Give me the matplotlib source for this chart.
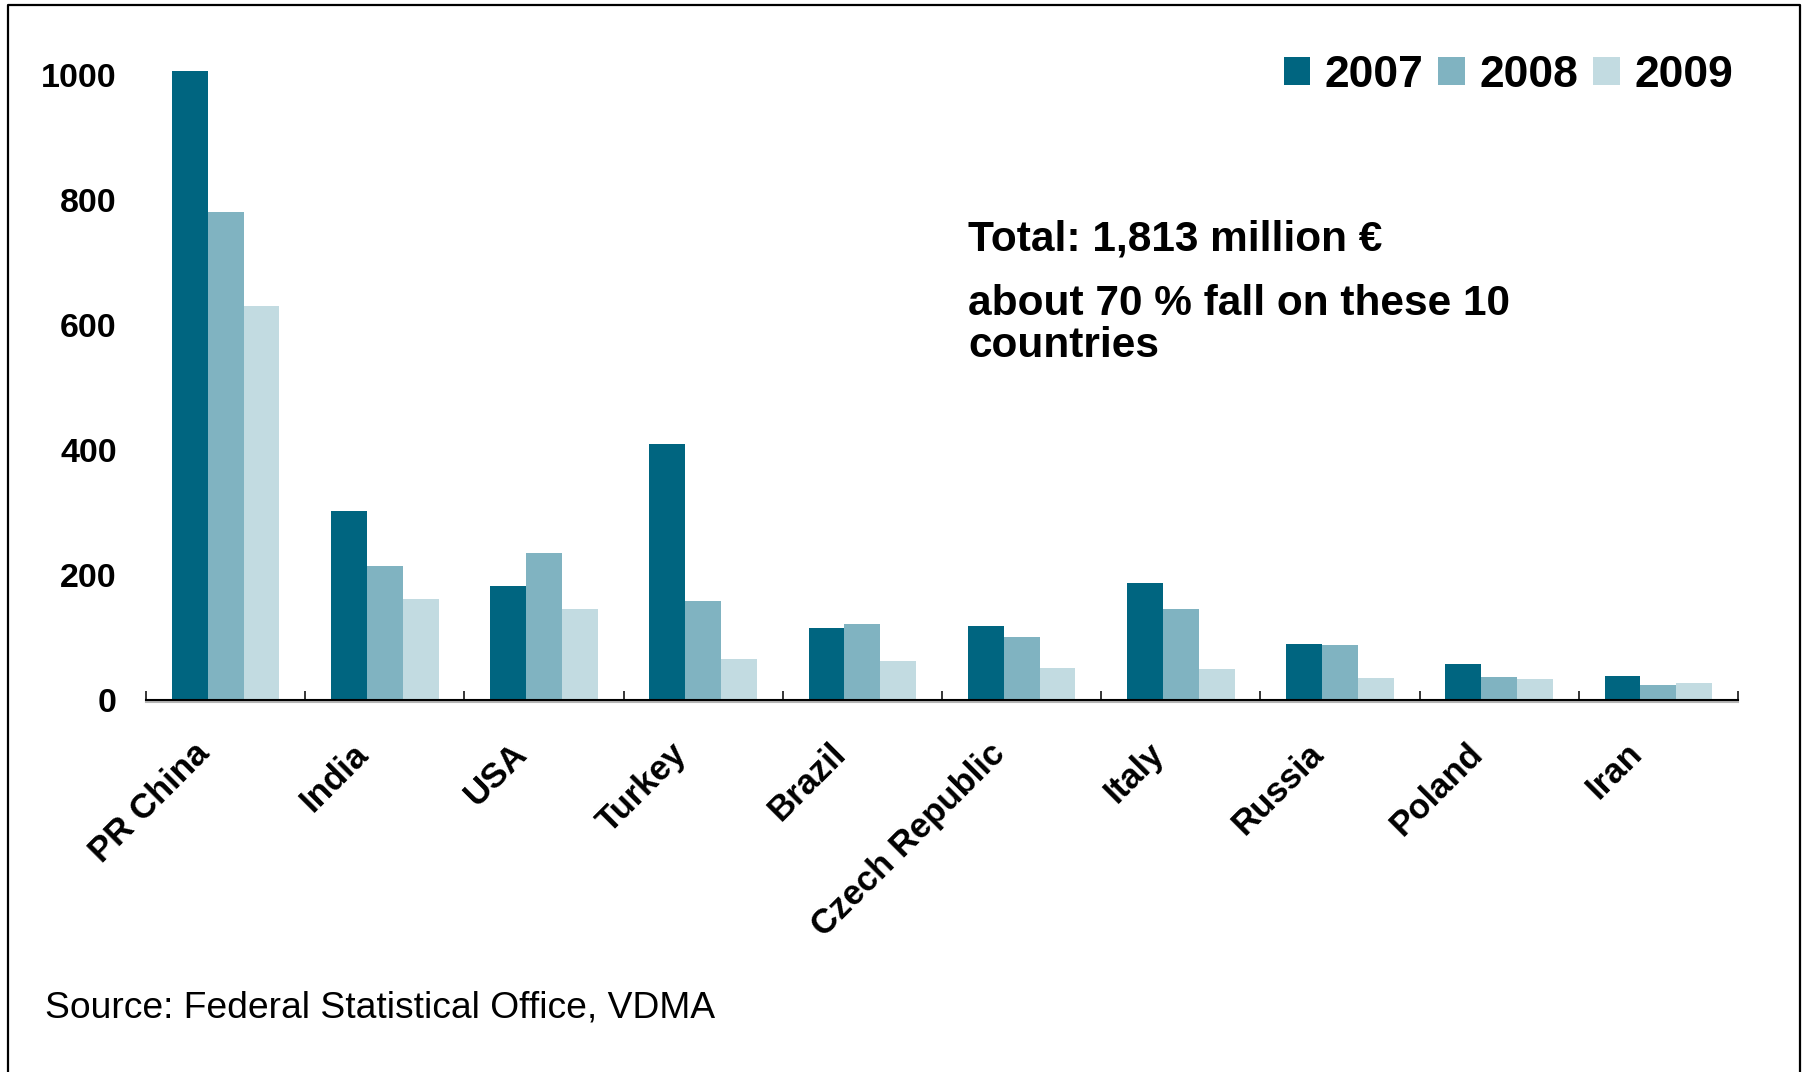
import matplotlib
matplotlib.use("Agg")
import matplotlib.pyplot as plt
import numpy as np
from matplotlib.patches import Patch
from matplotlib.lines import Line2D
from matplotlib.transforms import ScaledTranslation

# Machinery exports by destination country, million €
countries = ["PR China", "India", "USA", "Turkey", "Brazil", "Czech Republic",
             "Italy", "Russia", "Poland", "Iran"]
years = ["2007", "2008", "2009"]
values_2007 = [1006, 303, 183, 410, 115, 118, 187, 90, 58, 38]
values_2008 = [781, 215, 235, 158, 122, 101, 146, 88, 37, 24]
values_2009 = [630, 161, 145, 66, 62, 51, 50, 35, 34, 27]
y_ticks = [0, 200, 400, 600, 800, 1000]

colors = ["#006580", "#80B3C1", "#C2DBE1"]

plt.rcParams["font.family"] = ["Liberation Sans", "DejaVu Sans"]

W, H, DPI = 1803, 1072, 100
fig = plt.figure(figsize=(W / DPI, H / DPI), dpi=DPI)
fig.patch.set_facecolor("white")

y_top = 1100
ax_left, ax_right = 146 / W, 1738 / W
ax_bottom = 1 - 700 / H
ax_height = (y_top * 0.625) / H
ax = fig.add_axes([ax_left, ax_bottom, ax_right - ax_left, ax_height])

x = np.arange(len(countries))
bw = 0.225
for i, (vals, c, yr) in enumerate(zip([values_2007, values_2008, values_2009], colors, years)):
    ax.bar(x + (i - 1) * bw, vals, width=bw, color=c, linewidth=0, label=yr, zorder=2)

ax.set_xlim(-0.5, len(countries) - 0.5)
ax.set_ylim(0, y_top)

for s in ["top", "right", "left"]:
    ax.spines[s].set_visible(False)
ax.spines["bottom"].set_linewidth(1.5)
ax.spines["bottom"].set_color("black")
ax.spines["bottom"].set_zorder(4)

# faint grey shadow under the category axis
shadow = Line2D([0, 1], [0, 0], transform=ax.transAxes +
                ScaledTranslation(0, -2 / DPI, fig.dpi_scale_trans),
                color="#B5B5B5", linewidth=1.5, zorder=3, clip_on=False)
ax.add_line(shadow)

# tick marks at category boundaries
ax.set_xticks(np.arange(-0.5, len(countries), 1.0))
ax.set_xticklabels([])
ax.tick_params(axis="x", direction="in", length=6.5, width=1.1, color="black")

ax.set_yticks(y_ticks)
ax.set_yticklabels([str(v) for v in y_ticks], fontsize=24.5, fontweight="bold")
ax.tick_params(axis="y", length=0, pad=21)

# rotated category labels
lab_off = ScaledTranslation(-10 / DPI, -37 / DPI, fig.dpi_scale_trans)
for xi, name in zip(x, countries):
    ax.text(xi, 0, name, transform=ax.transData + lab_off, rotation=45,
            ha="right", va="top", fontsize=25, fontweight="bold",
            rotation_mode="default")

handles = [Patch(facecolor=c, edgecolor="none", label=y) for c, y in zip(colors, years)]
fig.legend(handles=handles, loc="upper right", ncol=3, frameon=False,
           bbox_to_anchor=(1733 / W, 1 - 55 / H), borderaxespad=0, borderpad=0,
           prop={"size": 32, "weight": "bold"}, handlelength=0.6, handleheight=0.6,
           handletextpad=0.32, columnspacing=0.34)

fig.text(968 / W, 1 - 251 / H, "Total: 1,813 million €", fontsize=30.5,
         fontweight="bold", va="baseline", ha="left")
fig.text(968 / W, 1 - 357 / H, "about 70 % fall on these 10\ncountries",
         fontsize=30.5, fontweight="bold", va="baseline", ha="left", linespacing=1.08)

fig.text(45 / W, 1 - 1018 / H, "Source: Federal Statistical Office, VDMA",
         fontsize=26.8, va="baseline", ha="left")

# outer frame (open at the bottom edge)
fl, ft, fr = 7.5 / W, 1 - 4.5 / H, 1800 / W
fig.add_artist(Line2D([fl, fl, fr, fr], [-0.05, ft, ft, -0.05],
                      transform=fig.transFigure, color="black", linewidth=1.6))

fig.savefig("out.png", dpi=DPI, facecolor="white")
